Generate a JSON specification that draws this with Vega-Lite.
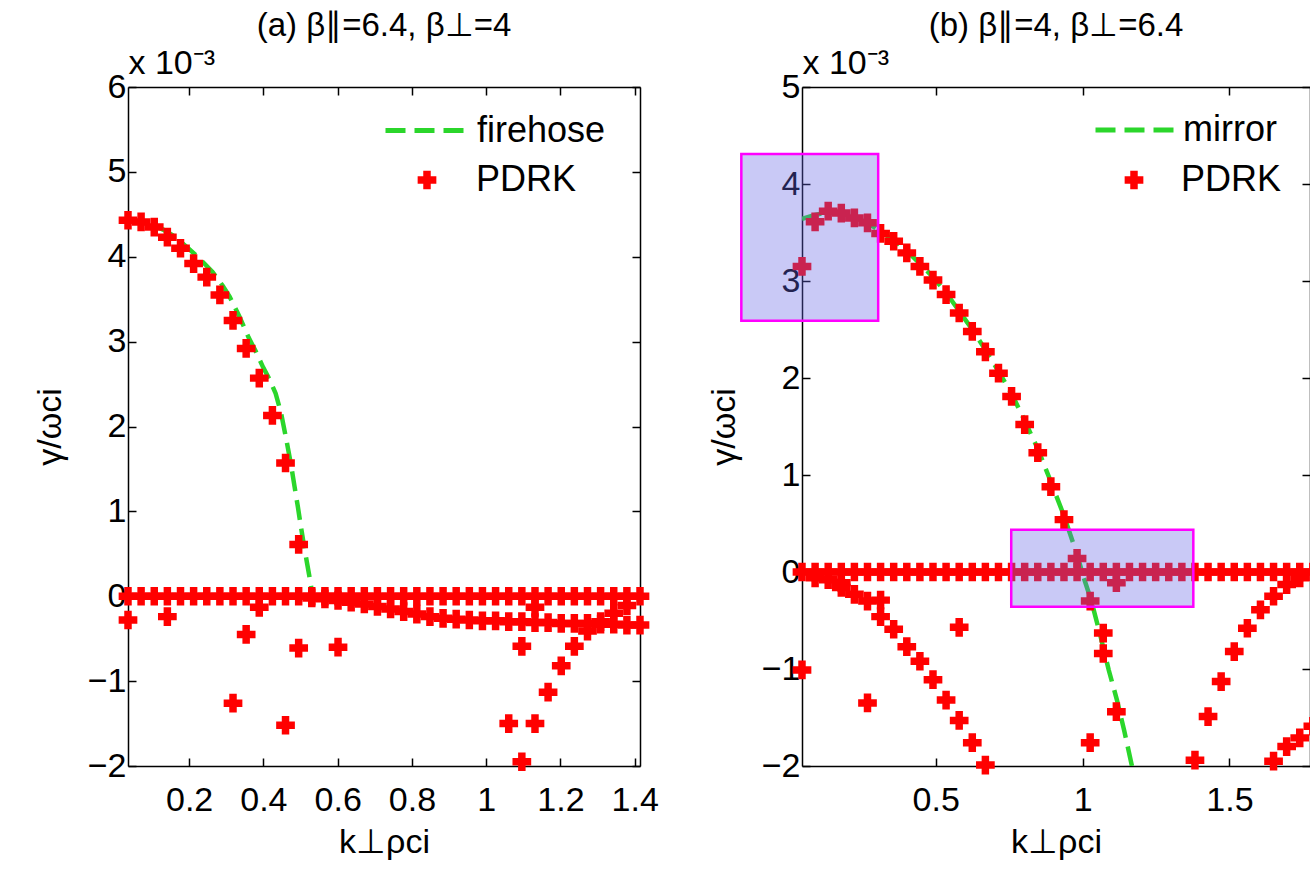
{
  "$schema": "https://vega.github.io/schema/vega-lite/v6.json",
  "autosize": {"type": "none"},
  "padding": {"left": 128, "top": 87, "right": 1182, "bottom": 791},
  "background": "white",
  "bounds": "flush",
  "spacing": 162,
  "resolve": {"scale": {"strokeDash": "independent", "shape": "independent"}},
  "config": {
    "font": "Liberation Sans",
    "view": {"stroke": null},
    "axis": {
      "grid": false, "domainColor": "black", "domainWidth": 1.5,
      "tickColor": "black", "tickWidth": 1.5, "tickSize": -8,
      "labelColor": "black", "titleColor": "black",
      "labelFont": "Liberation Sans", "titleFont": "Liberation Sans",
      "labelFontSize": 34, "titleFontSize": 34, "titleFontWeight": "normal",
      "labelFlush": false, "labelOverlap": false
    },
    "legend": {"labelFont": "Liberation Sans", "labelColor": "black", "labelFontSize": 36, "padding": 0, "labelLimit": 400},
    "title": {"font": "Liberation Sans", "fontSize": 33, "fontWeight": "normal", "color": "black"}
  },
  "datasets": {
    "a_curve": [
      {"k":0.0354,"g":4.43},{"k":0.07,"g":4.41},{"k":0.1,"g":4.38},{"k":0.13,"g":4.32},{"k":0.16,"g":4.24},{"k":0.195,"g":4.11},{"k":0.23,"g":3.97},{"k":0.263,"g":3.82},{"k":0.29,"g":3.66},{"k":0.309,"g":3.53},{"k":0.335,"g":3.3},{"k":0.36,"g":3.05},{"k":0.38,"g":2.88},{"k":0.399,"g":2.7},{"k":0.417,"g":2.55},{"k":0.433,"g":2.39},{"k":0.448,"g":2.15},{"k":0.462,"g":1.84},{"k":0.474,"g":1.56},{"k":0.484,"g":1.29},{"k":0.493,"g":1.05},{"k":0.501,"g":0.82},{"k":0.51,"g":0.58},{"k":0.518,"g":0.38},{"k":0.524,"g":0.23},{"k":0.529,"g":0.1},{"k":0.532,"g":0}
    ],
    "a_pdrk": [
      {"k":0.0354,"g":0},{"k":0.0707,"g":0},{"k":0.1061,"g":0},{"k":0.1414,"g":0},{"k":0.1768,"g":0},{"k":0.2121,"g":0},{"k":0.2475,"g":0},{"k":0.2828,"g":0},{"k":0.3182,"g":0},{"k":0.3536,"g":0},{"k":0.3889,"g":0},{"k":0.4243,"g":0},{"k":0.4596,"g":0},{"k":0.495,"g":0},{"k":0.5303,"g":0},{"k":0.5657,"g":0},{"k":0.601,"g":0},{"k":0.6364,"g":0},{"k":0.6718,"g":0},{"k":0.7071,"g":0},{"k":0.7425,"g":0},{"k":0.7778,"g":0},{"k":0.8132,"g":0},{"k":0.8485,"g":0},{"k":0.8839,"g":0},{"k":0.9192,"g":0},{"k":0.9546,"g":0},{"k":0.9899,"g":0},{"k":1.0253,"g":0},{"k":1.0607,"g":0},{"k":1.096,"g":0},{"k":1.1314,"g":0},{"k":1.1667,"g":0},{"k":1.2021,"g":0},{"k":1.2374,"g":0},{"k":1.2728,"g":0},{"k":1.3081,"g":0},{"k":1.3435,"g":0},{"k":1.3789,"g":0},{"k":1.4142,"g":0},
      {"k":0.0354,"g":4.43},{"k":0.0707,"g":4.41},{"k":0.1061,"g":4.35},{"k":0.1414,"g":4.23},{"k":0.1768,"g":4.1},{"k":0.2121,"g":3.92},{"k":0.2475,"g":3.76},{"k":0.2828,"g":3.55},{"k":0.3182,"g":3.25},{"k":0.3536,"g":2.92},{"k":0.3889,"g":2.57},{"k":0.4243,"g":2.13},{"k":0.4596,"g":1.57},{"k":0.495,"g":0.61},
      {"k":0.5303,"g":-0.02},{"k":0.5657,"g":-0.03},{"k":0.601,"g":-0.05},{"k":0.6364,"g":-0.07},{"k":0.6718,"g":-0.09},{"k":0.7071,"g":-0.12},{"k":0.7425,"g":-0.15},{"k":0.7778,"g":-0.18},{"k":0.8132,"g":-0.21},{"k":0.8485,"g":-0.24},{"k":0.8839,"g":-0.26},{"k":0.9192,"g":-0.27},{"k":0.9546,"g":-0.28},{"k":0.9899,"g":-0.29},{"k":1.0253,"g":-0.29},{"k":1.0607,"g":-0.3},{"k":1.096,"g":-0.3},{"k":1.1314,"g":-0.31},{"k":1.1667,"g":-0.31},{"k":1.2021,"g":-0.32},{"k":1.2374,"g":-0.32},{"k":1.2728,"g":-0.32},{"k":1.3081,"g":-0.33},{"k":1.3435,"g":-0.33},{"k":1.3789,"g":-0.34},{"k":1.4142,"g":-0.34},
      {"k":0.0354,"g":-0.28},{"k":0.1414,"g":-0.24},{"k":0.3182,"g":-1.26},{"k":0.3536,"g":-0.45},{"k":0.3889,"g":-0.13},{"k":0.4596,"g":-1.52},{"k":0.495,"g":-0.61},{"k":0.601,"g":-0.6},{"k":1.0607,"g":-1.5},{"k":1.096,"g":-0.59},{"k":1.096,"g":-1.95},{"k":1.1314,"g":-1.5},{"k":1.1314,"g":-0.13},{"k":1.1667,"g":-1.13},{"k":1.2021,"g":-0.82},{"k":1.2374,"g":-0.59},{"k":1.2728,"g":-0.41},{"k":1.3081,"g":-0.3},{"k":1.3435,"g":-0.2},{"k":1.3789,"g":-0.11}
    ],
    "b_curve": [
      {"k":0.0446,"g":3.64},{"k":0.0892,"g":3.68},{"k":0.1338,"g":3.71},{"k":0.1784,"g":3.7},{"k":0.223,"g":3.66},{"k":0.2676,"g":3.6},{"k":0.3122,"g":3.51},{"k":0.3568,"g":3.42},{"k":0.4014,"g":3.31},{"k":0.446,"g":3.18},{"k":0.4906,"g":3.04},{"k":0.5352,"g":2.88},{"k":0.5798,"g":2.69},{"k":0.6244,"g":2.5},{"k":0.669,"g":2.29},{"k":0.7136,"g":2.07},{"k":0.7582,"g":1.84},{"k":0.8028,"g":1.56},{"k":0.8474,"g":1.27},{"k":0.892,"g":0.93},{"k":0.9366,"g":0.58},{"k":0.9812,"g":0.18},{"k":1.003,"g":-0.05},{"k":1.03,"g":-0.3},{"k":1.06,"g":-0.65},{"k":1.089,"g":-1.01},{"k":1.117,"g":-1.32},{"k":1.142,"g":-1.64},{"k":1.168,"g":-2.0}
    ],
    "b_pdrk": [
      {"k":0.0446,"g":0},{"k":0.0892,"g":0},{"k":0.1338,"g":0},{"k":0.1784,"g":0},{"k":0.223,"g":0},{"k":0.2676,"g":0},{"k":0.3122,"g":0},{"k":0.3568,"g":0},{"k":0.4014,"g":0},{"k":0.446,"g":0},{"k":0.4906,"g":0},{"k":0.5352,"g":0},{"k":0.5798,"g":0},{"k":0.6244,"g":0},{"k":0.669,"g":0},{"k":0.7136,"g":0},{"k":0.7582,"g":0},{"k":0.8028,"g":0},{"k":0.8474,"g":0},{"k":0.892,"g":0},{"k":0.9366,"g":0},{"k":0.9812,"g":0},{"k":1.0258,"g":0},{"k":1.0704,"g":0},{"k":1.115,"g":0},{"k":1.1596,"g":0},{"k":1.2042,"g":0},{"k":1.2488,"g":0},{"k":1.2934,"g":0},{"k":1.338,"g":0},{"k":1.3826,"g":0},{"k":1.4272,"g":0},{"k":1.4718,"g":0},{"k":1.5164,"g":0},{"k":1.561,"g":0},{"k":1.6056,"g":0},{"k":1.6502,"g":0},{"k":1.6948,"g":0},{"k":1.7394,"g":0},{"k":1.784,"g":0},
      {"k":0.0446,"g":3.15},{"k":0.0892,"g":3.61},{"k":0.1338,"g":3.72},{"k":0.1784,"g":3.7},{"k":0.223,"g":3.65},{"k":0.2676,"g":3.6},{"k":0.3122,"g":3.49},{"k":0.3568,"g":3.41},{"k":0.4014,"g":3.29},{"k":0.446,"g":3.15},{"k":0.4906,"g":3.01},{"k":0.5352,"g":2.86},{"k":0.5798,"g":2.67},{"k":0.6244,"g":2.48},{"k":0.669,"g":2.27},{"k":0.7136,"g":2.05},{"k":0.7582,"g":1.81},{"k":0.8028,"g":1.52},{"k":0.8474,"g":1.23},{"k":0.892,"g":0.88},{"k":0.9366,"g":0.54},{"k":0.9812,"g":0.14},{"k":1.0258,"g":-0.3},{"k":1.0704,"g":-0.63},{"k":1.0704,"g":-0.84},{"k":1.115,"g":-1.44},
      {"k":1.0258,"g":-1.76},{"k":1.115,"g":-0.11},
      {"k":0.0446,"g":-1.01},{"k":0.0892,"g":-0.06},{"k":0.1338,"g":-0.08},{"k":0.1784,"g":-0.11},{"k":0.1784,"g":-0.16},{"k":0.223,"g":-0.23},{"k":0.2676,"g":-0.3},{"k":0.2676,"g":-1.35},{"k":0.3122,"g":-0.29},{"k":0.3122,"g":-0.46},{"k":0.3568,"g":-0.59},{"k":0.4014,"g":-0.77},{"k":0.446,"g":-0.92},{"k":0.4906,"g":-1.11},{"k":0.5352,"g":-1.32},{"k":0.5798,"g":-1.53},{"k":0.5798,"g":-0.57},{"k":0.6244,"g":-1.76},{"k":0.669,"g":-1.99},
      {"k":1.3826,"g":-1.94},{"k":1.4272,"g":-1.49},{"k":1.4718,"g":-1.13},{"k":1.5164,"g":-0.82},{"k":1.561,"g":-0.58},{"k":1.6056,"g":-0.39},{"k":1.6502,"g":-0.25},{"k":1.6948,"g":-0.13},{"k":1.7394,"g":-0.06},{"k":1.6502,"g":-1.95},{"k":1.6948,"g":-1.8},{"k":1.7394,"g":-1.71},{"k":1.784,"g":-1.59}
    ],
    "b_boxes": [
      {"k1":-0.162,"k2":0.304,"g1":2.59,"g2":4.31},
      {"k1":0.757,"k2":1.377,"g1":-0.358,"g2":0.436}
    ]
  },
  "hconcat": [
    {
      "width": 512,
      "height": 679,
      "title": {"text": "(a) β∥=6.4, β⊥=4", "anchor": "middle", "baseline": "alphabetic", "offset": -23},
      "layer": [
        {
          "data": {"name": "a_curve"},
          "mark": {"type": "line", "color": "#2bd62b", "strokeWidth": 4.5, "strokeCap": "butt", "clip": true},
          "encoding": {
            "x": {"field": "k", "type": "quantitative", "scale": {"domain": [0.0354, 1.4142], "nice": false, "zero": false},
                  "axis": {"orient": "bottom", "values": [0.2,0.4,0.6,0.8,1,1.2,1.4], "format": "~g", "labelPadding": 25, "title": "k⊥ρci", "titlePadding": 8}},
            "y": {"field": "g", "type": "quantitative", "scale": {"domain": [-2, 6], "nice": false, "zero": false},
                  "axis": {"orient": "left", "values": [-2,-1,0,1,2,3,4,5,6], "format": "d", "labelPadding": 10, "title": "γ/ωci", "titlePadding": 20}},
            "strokeDash": {"datum": "firehose", "type": "nominal", "scale": {"domain": ["firehose"], "range": [[20, 9]]},
                  "legend": {"orient": "none", "legendX": 255, "legendY": 0, "title": null, "symbolType": "stroke", "symbolSize": 6724, "symbolStrokeWidth": 5, "symbolStrokeColor": "#2bd62b", "labelOffset": 7}}
          }
        },
        {
          "data": {"name": "a_pdrk"},
          "mark": {"type": "point", "shape": "cross", "filled": true, "color": "#ff0000", "size": 350, "opacity": 1, "strokeWidth": 0, "clip": false},
          "encoding": {
            "x": {"field": "k", "type": "quantitative", "scale": {"domain": [0.0354, 1.4142], "nice": false, "zero": false},
                  "axis": {"orient": "top", "values": [0.2,0.4,0.6,0.8,1,1.2,1.4], "labels": false, "title": "x 10⁻³", "titleX": 0, "titleY": -14, "titleAlign": "left", "titleBaseline": "alphabetic", "titleAngle": 0}},
            "y": {"field": "g", "type": "quantitative", "scale": {"domain": [-2, 6], "nice": false, "zero": false},
                  "axis": {"orient": "right", "values": [-2,-1,0,1,2,3,4,5,6], "labels": false, "title": null}},
            "shape": {"datum": "PDRK", "type": "nominal", "scale": {"domain": ["PDRK"], "range": ["cross"]},
                  "legend": {"orient": "none", "legendX": 281, "legendY": 75, "title": null, "symbolSize": 350, "symbolFillColor": "#ff0000", "symbolStrokeWidth": 0, "labelOffset": 31}}
          }
        }
      ],
      "resolve": {"axis": {"x": "independent", "y": "independent"}}
    },
    {
      "width": 508,
      "height": 679,
      "title": {"text": "(b) β∥=4, β⊥=6.4", "anchor": "middle", "baseline": "alphabetic", "offset": -23},
      "layer": [
        {
          "data": {"name": "b_curve"},
          "mark": {"type": "line", "color": "#2bd62b", "strokeWidth": 4.5, "strokeCap": "butt", "clip": true},
          "encoding": {
            "x": {"field": "k", "type": "quantitative", "scale": {"domain": [0.0446, 1.7743], "nice": false, "zero": false},
                  "axis": {"orient": "bottom", "values": [0.5,1,1.5], "format": "~g", "labelPadding": 25, "title": "k⊥ρci", "titlePadding": 8}},
            "y": {"field": "g", "type": "quantitative", "scale": {"domain": [-2, 5], "nice": false, "zero": false},
                  "axis": {"orient": "left", "values": [-2,-1,0,1,2,3,4,5], "format": "d", "labelPadding": 10, "title": "γ/ωci", "titlePadding": 20}},
            "strokeDash": {"datum": "mirror", "type": "nominal", "scale": {"domain": ["mirror"], "range": [[20, 9]]},
                  "legend": {"orient": "none", "legendX": 291, "legendY": 0, "title": null, "symbolType": "stroke", "symbolSize": 6561, "symbolStrokeWidth": 5, "symbolStrokeColor": "#2bd62b", "labelOffset": 4}}
          }
        },
        {
          "data": {"name": "b_pdrk"},
          "mark": {"type": "point", "shape": "cross", "filled": true, "color": "#ff0000", "size": 350, "opacity": 1, "strokeWidth": 0, "clip": false},
          "encoding": {
            "x": {"field": "k", "type": "quantitative", "scale": {"domain": [0.0446, 1.7743], "nice": false, "zero": false},
                  "axis": {"orient": "top", "values": [0.5,1,1.5], "labels": false, "title": "x 10⁻³", "titleX": 0, "titleY": -14, "titleAlign": "left", "titleBaseline": "alphabetic", "titleAngle": 0}},
            "y": {"field": "g", "type": "quantitative", "scale": {"domain": [-2, 5], "nice": false, "zero": false},
                  "axis": {"orient": "right", "values": [-2,-1,0,1,2,3,4,5], "labels": false, "title": null}},
            "shape": {"datum": "PDRK", "type": "nominal", "scale": {"domain": ["PDRK"], "range": ["cross"]},
                  "legend": {"orient": "none", "legendX": 314, "legendY": 75, "title": null, "symbolSize": 350, "symbolFillColor": "#ff0000", "symbolStrokeWidth": 0, "labelOffset": 29}}
          }
        },
        {
          "data": {"name": "b_boxes"},
          "mark": {"type": "rect", "fill": "#6464e6", "fillOpacity": 0.35, "stroke": "#ff00ff", "strokeWidth": 2.5, "clip": false},
          "encoding": {
            "x": {"field": "k1", "type": "quantitative", "scale": {"domain": [0.0446, 1.7743], "nice": false, "zero": false}, "axis": null},
            "x2": {"field": "k2"},
            "y": {"field": "g1", "type": "quantitative", "scale": {"domain": [-2, 5], "nice": false, "zero": false}, "axis": null},
            "y2": {"field": "g2"}
          }
        }
      ],
      "resolve": {"axis": {"x": "independent", "y": "independent"}}
    }
  ]
}
